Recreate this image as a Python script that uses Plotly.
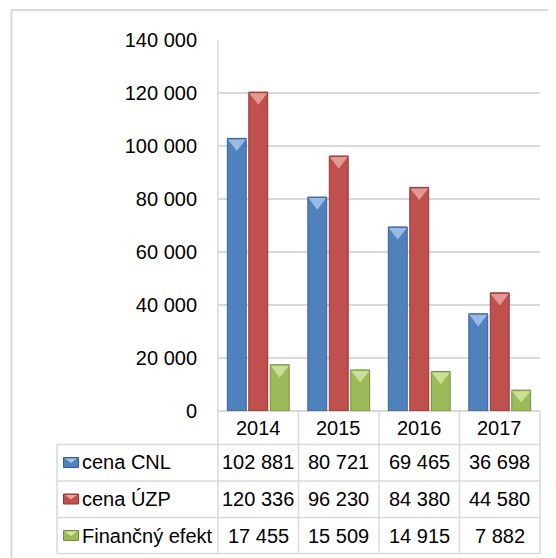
import plotly.graph_objects as go

years = ["2014", "2015", "2016", "2017"]
series_names = ["cena CNL", "cena ÚZP", "Finančný efekt"]
cena_cnl = [102881, 80721, 69465, 36698]
cena_uzp = [120336, 96230, 84380, 44580]
fin_efekt = [17455, 15509, 14915, 7882]
y_ticks = [0, 20000, 40000, 60000, 80000, 100000, 120000, 140000]

colors = ["#4f81bd", "#c0504d", "#9bbb59"]
edges = ["#345f94", "#8f3633", "#738f3c"]
lights = ["#a6c4ec", "#eaa3a1", "#d3e6a2"]
series_values = [cena_cnl, cena_uzp, fin_efekt]

OFF = 8  # page body margin
W, H = 556 - OFF, 558 - OFF
L, R, T, B = 218, 540, 40, 411  # plot area in page pixels
YMAX = 140000
FONT = "Liberation Sans, Arial, sans-serif"
FS = 20
GRID = "#d9d9d9"

def px_x(px):
    return (px - L) / (R - L)

def px_y(py):
    return (B - py) / (B - T)

fig = go.Figure()
for k, (name, vals, c, e) in enumerate(zip(series_names, series_values, colors, edges)):
    fig.add_trace(go.Bar(
        x=years, y=vals, name=name, offsetgroup=str(k),
        marker=dict(color=c, line=dict(color=e, width=1)),
        showlegend=False,
    ))
# bevel highlight at the top of each bar (on an overlay axis shifted a few px down)
shift = 4.9 * YMAX / (B - T)
for k, (name, vals, lc) in enumerate(zip(series_names, series_values, lights)):
    fig.add_trace(go.Scatter(
        x=years, y=vals, mode="markers", offsetgroup=str(k), yaxis="y2",
        marker=dict(symbol="triangle-down", size=15.5, color=lc, opacity=0.85,
                    line=dict(width=0)),
        showlegend=False, hoverinfo="skip",
    ))

shapes = []
# outer frame (left + top visible)
shapes.append(dict(type="line", xref="paper", yref="paper",
                   x0=px_x(11.5), x1=px_x(570), y0=px_y(10), y1=px_y(10),
                   line=dict(color=GRID, width=2)))
shapes.append(dict(type="line", xref="paper", yref="paper",
                   x0=px_x(11.5), x1=px_x(11.5), y0=px_y(10), y1=px_y(570),
                   line=dict(color=GRID, width=2)))

# table grid
row_lines = [444.5, 481, 517.5, 553.5]
col_lines = [218, 298.5, 379, 459.5, 540]
for ry in row_lines:
    shapes.append(dict(type="line", xref="paper", yref="paper",
                       x0=px_x(57), x1=px_x(540), y0=px_y(ry), y1=px_y(ry),
                       line=dict(color=GRID, width=1.5)))
for cx in col_lines:
    top = 40 if cx == 218 else 411
    shapes.append(dict(type="line", xref="paper", yref="paper",
                       x0=px_x(cx), x1=px_x(cx), y0=px_y(top), y1=px_y(553.5),
                       line=dict(color=GRID, width=1.5)))
shapes.append(dict(type="line", xref="paper", yref="paper",
                   x0=px_x(57), x1=px_x(57), y0=px_y(444.5), y1=px_y(553.5),
                   line=dict(color=GRID, width=1.5)))

annotations = []
# header years
for i, yr in enumerate(years):
    annotations.append(dict(x=i, xref="x", y=px_y(427.5), yref="paper",
                            xanchor="center", yanchor="middle",
                            text=yr, showarrow=False,
                            font=dict(family=FONT, size=FS, color="#000")))
row_centers = [462.5, 499, 535.5]
for r, (name, vals, c, e, lc) in enumerate(zip(series_names, series_values, colors, edges, lights)):
    cy = row_centers[r]
    shapes.append(dict(type="rect", xref="paper", yref="paper",
                       x0=px_x(63.5), x1=px_x(78.5), y0=px_y(cy - 5), y1=px_y(cy + 5),
                       fillcolor=c, line=dict(color=e, width=1)))
    shapes.append(dict(type="path", xref="paper", yref="paper",
                       path=(f"M{px_x(65)},{px_y(cy - 4)} L{px_x(77)},{px_y(cy - 4)} "
                             f"L{px_x(71)},{px_y(cy + 0.5)} Z"),
                       fillcolor=lc, line=dict(width=0)))
    annotations.append(dict(x=px_x(80), xref="paper", y=px_y(cy), yref="paper",
                            xanchor="left", yanchor="middle",
                            text=name, showarrow=False,
                            font=dict(family=FONT, size=FS, color="#000")))
    for i, v in enumerate(vals):
        annotations.append(dict(x=i, xref="x", y=px_y(cy), yref="paper",
                                xanchor="center", yanchor="middle",
                                text=f"{v:,}".replace(",", " "), showarrow=False,
                                font=dict(family=FONT, size=FS, color="#000")))

fig.update_layout(
    width=W, height=H,
    margin=dict(l=L - OFF, r=W - (R - OFF), t=T - OFF, b=H - (B - OFF), pad=0),
    paper_bgcolor="white", plot_bgcolor="white",
    barmode="group", bargap=0.2, bargroupgap=0.12,
    scattermode="group", scattergap=0.2,
    separators=". ",
    shapes=shapes, annotations=annotations,
    font=dict(family=FONT, size=FS, color="#000"),
    yaxis2=dict(overlaying="y", range=[shift, YMAX + shift], visible=False,
                showgrid=False, zeroline=False),
)
fig.update_xaxes(type="category", showticklabels=False, showgrid=False,
                 showline=False, zeroline=False, range=[-0.5, 3.5])
fig.update_yaxes(selector=dict(overlaying=None), range=[0, YMAX], tickvals=y_ticks, tickformat=",d",
                 showgrid=True, gridcolor=GRID, gridwidth=1.5,
                 zeroline=True, zerolinecolor=GRID, zerolinewidth=1.5,
                 showline=False, ticks="", ticklabelstandoff=20,
                 tickfont=dict(family=FONT, size=FS, color="#000"))

fig.write_html("out.html")
